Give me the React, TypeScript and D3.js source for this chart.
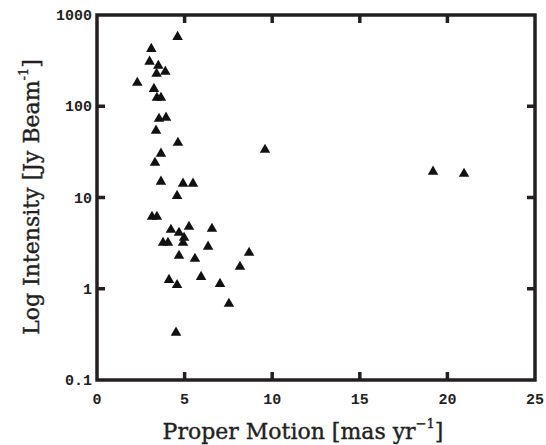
import React from "react";
import * as d3 from "d3";

const properMotion = [
  4.6, 3.1, 3.0, 3.5, 3.9, 3.4, 2.3, 3.25, 3.42, 3.65,
  3.54, 3.94, 3.37, 4.62, 3.65, 3.31, 3.65, 4.91, 5.48, 4.57,
  3.14, 3.42, 4.22, 5.25, 6.56, 4.68, 4.97, 3.77, 4.05, 4.91,
  6.34, 4.68, 5.59, 8.68, 8.16, 4.11, 5.94, 4.57, 7.02, 7.53,
  4.51, 9.59, 19.18, 20.95,
];
const intensity = [
  575, 425, 308, 278, 239, 227, 181, 155, 124, 124,
  73, 75, 54, 39.8, 30.2, 24.0, 14.9, 14.2, 14.2, 10.4,
  6.15, 6.15, 4.43, 4.78, 4.54, 4.11, 3.62, 3.19, 3.19, 3.19,
  2.89, 2.30, 2.13, 2.48, 1.74, 1.25, 1.35, 1.10, 1.13, 0.685,
  0.33, 33.4, 19.2, 18.2,
];
const xTicks = [0, 5, 10, 15, 20, 25];
const yTicks = [0.1, 1, 10, 100, 1000];
const yTickLabels = ["0.1", "1", "10", "100", "1000"];

export default function App() {
  const W = 546, H = 445;
  const left = 97, right = 535, top = 15, bottom = 380;
  const x = d3.scaleLinear().domain([0, 25]).range([left, right]);
  const y = d3.scaleLog().domain([0.1, 1000]).range([bottom, top]);
  const tri = d3.symbol(d3.symbolTriangle, 48)();
  const col = "#231f20";
  const sw = 3.5;
  const tl = 8;
  const mono = "'Liberation Mono', 'Courier New', monospace";
  const serif = "'DejaVu Serif', 'Liberation Serif', serif";
  return (
    <svg width={W} height={H} style={{ position: "absolute", left: 0, top: 0, background: "#fff" }}>
      {xTicks.slice(1, -1).map((t) => (
        <g key={"xt" + t}>
          <line x1={x(t)} x2={x(t)} y1={bottom} y2={bottom - tl} stroke={col} strokeWidth={sw} />
          <line x1={x(t)} x2={x(t)} y1={top} y2={top + tl} stroke={col} strokeWidth={sw} />
        </g>
      ))}
      {yTicks.slice(1, -1).map((t) => (
        <g key={"yt" + t}>
          <line x1={left} x2={left + tl} y1={y(t)} y2={y(t)} stroke={col} strokeWidth={sw} />
          <line x1={right} x2={right - tl} y1={y(t)} y2={y(t)} stroke={col} strokeWidth={sw} />
        </g>
      ))}
      <rect x={left} y={top} width={right - left} height={bottom - top} fill="none" stroke={col} strokeWidth={sw} />
      {xTicks.map((t) => (
        <text key={"xl" + t} x={x(t)} y={404} textAnchor="middle" fontFamily={mono} fontWeight="bold" fontSize={15} fill={col}>
          {t}
        </text>
      ))}
      {yTicks.map((t, i) => (
        <text key={"yl" + t} x={92} y={y(t) + 5} textAnchor="end" fontFamily={mono} fontWeight="bold" fontSize={15} fill={col}>
          {yTickLabels[i]}
        </text>
      ))}
      {properMotion.map((v, i) => (
        <path key={"p" + i} d={tri} transform={`translate(${x(v)},${y(intensity[i])})`} fill="#111" />
      ))}
      <text x={303} y={439} textAnchor="middle" fontFamily={serif} fontSize={22} fill={col} stroke={col} strokeWidth={0.4}>
        Proper Motion [mas yr
        <tspan dy={-11} fontSize={13}>−1</tspan>
        <tspan dy={11}>]</tspan>
      </text>
      <text transform={`translate(39,197) rotate(-90)`} textAnchor="middle" fontFamily={serif} fontSize={22} fill={col} stroke={col} strokeWidth={0.4}>
        Log Intensity [Jy Beam
        <tspan dy={-11} fontSize={13}>-1</tspan>
        <tspan dy={11}>]</tspan>
      </text>
    </svg>
  );
}
